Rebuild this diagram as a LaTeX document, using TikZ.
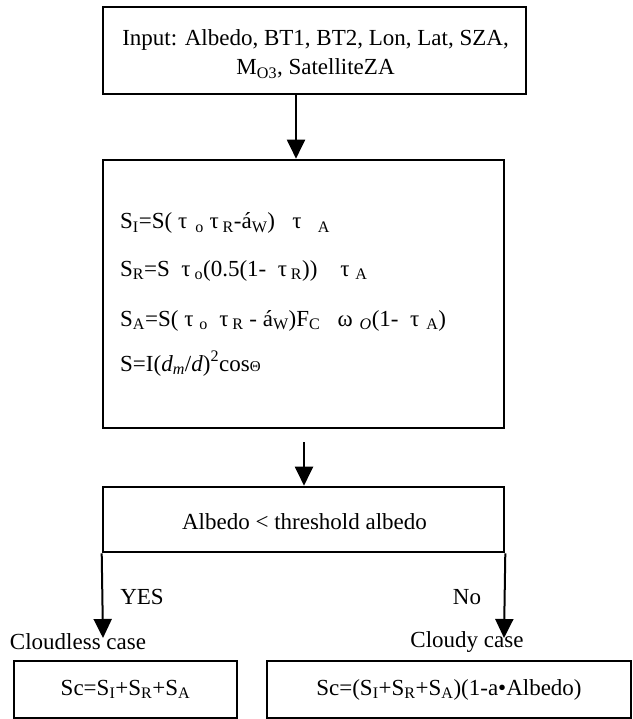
\documentclass[tikz,border=0pt]{standalone}
\usepackage{fontspec}
\setmainfont{Liberation Serif}
\usetikzlibrary{arrows.meta}
\begin{document}
\begin{tikzpicture}[x=1pt,y=-1pt,
  font=\fontsize{23}{29}\selectfont,
  box/.style={draw, line width=2.6pt, inner sep=0pt},
  arr/.style={line width=2pt, -{Triangle[length=19pt,width=18pt]}},
  lbl/.style={inner sep=0pt}]
\useasboundingbox (0,0) rectangle (632,719);
% boxes
\node[box, minimum width=423pt, minimum height=87pt] (input) at (314.5,50.5) {};
\node[lbl, align=center] (inputtxt) at (315.5,54)
  {Input: Albedo, BT1, BT2, Lon, Lat, SZA,\\ M\textsubscript{O3}, SatelliteZA};
\node[box, minimum width=401pt, minimum height=268pt] (calc) at (303.5,294) {};
\node[box, minimum width=401pt, minimum height=65pt] (dec) at (303.5,519.5) {};
\node[lbl] (dectxt) at (304.5,521.5) {Albedo < threshold albedo};
\node[box, minimum width=223pt, minimum height=57pt] (sc1) at (125.5,689.5)
  {Sc=S\textsubscript{I}+S\textsubscript{R}+S\textsubscript{A}};
\node[box, minimum width=364pt, minimum height=57pt] (sc2) at (449,689.5)
  {Sc=(S\textsubscript{I}+S\textsubscript{R}+S\textsubscript{A})(1-a•Albedo)};
% formulas
\node[lbl, anchor=base west] (f1) at (120,229)
  {S\textsubscript{I}=S( τ\hspace{0.35em}\textsubscript{o}\ τ\,\textsubscript{R}-á\textsubscript{W})\ \ \ τ\hspace{0.7em}\textsubscript{A}};
\node[lbl, anchor=base west] (f2) at (120,276)
  {S\textsubscript{R}=S\ \ τ\,\textsubscript{o}(0.5(1-\ \ τ\,\textsubscript{R}))\ \ \ \ τ\hspace{0.25em}\textsubscript{A}};
\node[lbl, anchor=base west] (f3) at (120,326)
  {S\textsubscript{A}=S( τ\hspace{0.25em}\textsubscript{o}\ \ τ\,\textsubscript{R}\ -\ á\textsubscript{W})F\textsubscript{C}\ \ \ ω\hspace{0.3em}\textsubscript{\itshape O}(1-\ \ τ\hspace{0.3em}\textsubscript{A})};
\node[lbl, anchor=base west] (f4) at (120,371)
  {S=I(\textit{d}\textsubscript{\itshape m}/\textit{d})\textsuperscript{2}cos{\fontsize{15}{15}\selectfont Θ}};
% connectors
\coordinate (a1) at (296,94);
\draw[arr] (a1) -- (a1 |- calc.north);
\coordinate (a2) at (304,442);
\draw[arr] (a2) -- (a2 |- dec.north);
\coordinate (yesend) at (103,638);
\coordinate (noend) at (504,638);
\draw[arr] (dec.south west) -- (yesend);
\draw[arr] (dec.south east) -- (noend);
% labels
\node[lbl] (yes) at (142,597) {YES};
\node[lbl] (no) at (467,597) {No};
\node[lbl] (cl) at (78,642) {Cloudless case};
\node[lbl] (cy) at (467,642) {Cloudy case};
\end{tikzpicture}
\end{document}
